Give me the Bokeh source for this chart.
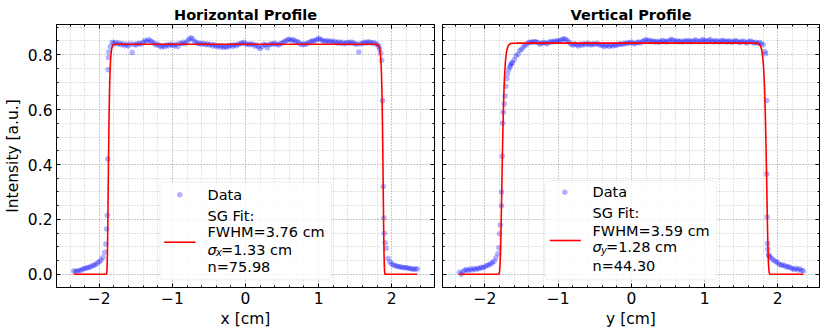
import numpy as np
from bokeh.plotting import figure
from bokeh.layouts import row
from bokeh.models import (Range1d, FixedTicker, LinearAxis, BoxAnnotation, Label,
                          CustomJSTickFormatter, NumeralTickFormatter, CustomLabelingPolicy)
from bokeh.embed import file_html
from bokeh.resources import INLINE

FONT = "DejaVu Sans"

# ---------------- data ----------------
# Horizontal profile: samples every 0.025 cm starting at -2.35 cm
h_x_start, h_x_step = -2.35, 0.025
h_y = [
    0.012, 0.010, 0.012, 0.014, 0.015, 0.019, 0.021, 0.023, 0.025, 0.027,
    0.030, 0.033, 0.036, 0.041, 0.046, 0.052, 0.062, 0.080, 0.165, 0.790,
    0.830, 0.845, 0.842, 0.845, 0.838, 0.843, 0.836, 0.840, 0.833, 0.838,
    0.832, 0.840, 0.808, 0.838, 0.835, 0.840, 0.842, 0.838, 0.845, 0.852,
    0.848, 0.855, 0.850, 0.846, 0.842, 0.835, 0.838, 0.833, 0.828, 0.832,
    0.830, 0.836, 0.833, 0.838, 0.835, 0.832, 0.838, 0.830, 0.842, 0.840,
    0.845, 0.840, 0.848, 0.855, 0.862, 0.858, 0.848, 0.845, 0.840, 0.842,
    0.838, 0.842, 0.836, 0.840, 0.835, 0.838, 0.832, 0.836, 0.830, 0.833,
    0.828, 0.832, 0.826, 0.830, 0.828, 0.832, 0.835, 0.830, 0.836, 0.833,
    0.838, 0.840, 0.842, 0.845, 0.840, 0.838, 0.836, 0.840, 0.838, 0.832,
    0.835, 0.828, 0.822, 0.830, 0.838, 0.835, 0.825, 0.836, 0.840, 0.838,
    0.842, 0.838, 0.835, 0.840, 0.843, 0.846, 0.850, 0.854, 0.856, 0.852,
    0.855, 0.850, 0.848, 0.845, 0.840, 0.836, 0.840, 0.838, 0.842, 0.845,
    0.848, 0.852, 0.850, 0.855, 0.860, 0.856, 0.852, 0.850, 0.848, 0.852,
    0.846, 0.850, 0.845, 0.848, 0.843, 0.846, 0.842, 0.845, 0.840, 0.843,
    0.845, 0.842, 0.846, 0.843, 0.840, 0.838, 0.810, 0.840, 0.842, 0.845,
    0.843, 0.847, 0.845, 0.842, 0.844, 0.840, 0.838, 0.830, 0.805, 0.632,
    0.150, 0.095, 0.058, 0.045, 0.038, 0.034, 0.031, 0.029, 0.028, 0.027,
    0.025, 0.024, 0.025, 0.022, 0.021, 0.020, 0.018, 0.020, 0.019,
]
# extra samples on the steep edges
h_edge_x = [-1.910, -1.890, -1.883, -1.878, -1.870, 1.835, 1.862, 1.884, 1.893, 1.910]
h_edge_y = [0.110, 0.215, 0.420, 0.745, 0.810, 0.820, 0.780, 0.320, 0.205, 0.115]

# Vertical profile: samples every 0.025 cm starting at -2.35 cm
v_x_start, v_x_step = -2.35, 0.025
v_y = [
    0.008, 0.000, 0.010, 0.015, 0.018, 0.013, 0.019, 0.016, 0.021, 0.018,
    0.022, 0.020, 0.026, 0.024, 0.028, 0.032, 0.034, 0.038, 0.042, 0.048,
    0.060, 0.075, 0.148, 0.250, 0.590, 0.650, 0.712, 0.745, 0.762, 0.772,
    0.782, 0.795, 0.802, 0.814, 0.820, 0.828, 0.834, 0.840, 0.844, 0.846,
    0.845, 0.848, 0.846, 0.844, 0.838, 0.842, 0.845, 0.843, 0.840, 0.845,
    0.848, 0.846, 0.850, 0.848, 0.852, 0.850, 0.855, 0.858, 0.856, 0.852,
    0.845, 0.838, 0.835, 0.840, 0.836, 0.832, 0.838, 0.834, 0.840, 0.836,
    0.842, 0.838, 0.835, 0.840, 0.837, 0.842, 0.838, 0.834, 0.836, 0.830,
    0.833, 0.836, 0.830, 0.834, 0.832, 0.836, 0.834, 0.838, 0.840, 0.837,
    0.842, 0.840, 0.844, 0.842, 0.846, 0.842, 0.840, 0.844, 0.846, 0.843,
    0.848, 0.852, 0.855, 0.850, 0.853, 0.848, 0.850, 0.846, 0.849, 0.845,
    0.848, 0.852, 0.850, 0.846, 0.849, 0.853, 0.856, 0.852, 0.848, 0.851,
    0.847, 0.850, 0.846, 0.849, 0.852, 0.848, 0.851, 0.847, 0.850, 0.854,
    0.850, 0.847, 0.851, 0.855, 0.852, 0.848, 0.851, 0.855, 0.850, 0.847,
    0.852, 0.849, 0.846, 0.850, 0.853, 0.849, 0.846, 0.851, 0.848, 0.845,
    0.849, 0.852, 0.848, 0.844, 0.847, 0.850, 0.846, 0.843, 0.847, 0.850,
    0.846, 0.843, 0.845, 0.842, 0.844, 0.840, 0.836, 0.812, 0.365, 0.072,
    0.062, 0.056, 0.050, 0.046, 0.042, 0.036, 0.033, 0.034, 0.030, 0.027,
    0.028, 0.024, 0.020, 0.018, 0.022, 0.016, 0.020, 0.014, 0.012,
]
v_edge_x = [-1.809, -1.790, -1.772, -1.763, -1.757, -1.735, -1.715, -1.690, -1.660, -1.640,
            1.835, 1.848, 1.855, 1.860, 1.865, 1.880]
v_edge_y = [0.097, 0.180, 0.300, 0.430, 0.550, 0.620, 0.685, 0.730, 0.755, 0.768,
            0.803, 0.633, 0.209, 0.112, 0.091, 0.066]

# super-Gaussian fit parameters (from the legend)
h_fit = dict(amp=0.838, x0=0.003, sigma=1.33, n=75.98)
v_fit = dict(amp=0.842, x0=0.040, sigma=1.28, n=44.30)
h_fit_label = ["SG Fit:", "FWHM=3.76 cm", ("x", "=1.33 cm"), "n=75.98"]
v_fit_label = ["SG Fit:", "FWHM=3.59 cm", ("y", "=1.28 cm"), "n=44.30"]

x_major = [-2, -1, 0, 1, 2]
y_major = [0.0, 0.2, 0.4, 0.6, 0.8]
x_minor = [round(v, 2) for v in np.arange(-2.6, 2.61, 0.2)]
y_minor = [round(v, 3) for v in np.arange(-0.05, 0.951, 0.05)]

FH = 263
Y_RANGE = (-0.048, 0.91)


def sg(x, amp, x0, sigma, n):
    return amp * np.exp(-(((x - x0) ** 2) / (2 * sigma ** 2)) ** n)


def style_axis(ax, ticker, show_labels, formatter=None, label=None):
    ax.ticker = ticker
    if formatter is not None:
        ax.formatter = formatter
    ax.major_tick_in = 4
    ax.major_tick_out = 0
    ax.minor_tick_in = 2
    ax.minor_tick_out = 0
    ax.major_tick_line_color = "black"
    ax.minor_tick_line_color = "black"
    ax.axis_line_color = "black"
    if show_labels:
        ax.major_label_text_font = FONT
        ax.major_label_text_font_size = "15.5px"
        ax.major_label_text_color = "black"
        ax.major_label_standoff = 4
    else:
        # tick marks only: no tick labels are drawn on this side
        ax.major_label_text_font_size = "0px"
        ax.major_label_standoff = 0
        ax.major_label_policy = CustomLabelingPolicy(
            code="for (const i of Array.from(indices)) { indices.unset(i) } return indices")
    if label:
        ax.axis_label = label
        ax.axis_label_text_font = FONT
        ax.axis_label_text_font_size = "15.5px"
        ax.axis_label_text_font_style = "normal"
        ax.axis_label_text_color = "black"
        ax.axis_label_standoff = 3


def make_panel(title, xlabel, xs, ys, fit, fit_lines, x_range, fw, ml, mr, show_y, leg):
    p = figure(title=title, frame_width=fw, frame_height=FH,
               x_range=Range1d(*x_range), y_range=Range1d(*Y_RANGE),
               output_backend="svg", toolbar_location=None,
               min_border_left=ml, min_border_right=mr,
               min_border_top=24, min_border_bottom=46,
               background_fill_color="white", border_fill_color="white")
    p.outline_line_color = "black"
    p.outline_line_width = 1
    p.outline_line_alpha = 1

    xt = FixedTicker(ticks=x_major, minor_ticks=x_minor)
    yt = FixedTicker(ticks=y_major, minor_ticks=y_minor)
    xfmt = CustomJSTickFormatter(code="return tick < 0 ? '\u2212' + (-tick) : String(tick);")
    yfmt = NumeralTickFormatter(format="0.0")

    style_axis(p.below[0], xt, True, xfmt, xlabel)
    style_axis(p.left[0], yt, show_y, yfmt, "Intensity [a.u.]" if show_y else None)
    top = LinearAxis()
    right = LinearAxis()
    style_axis(top, xt, False)
    style_axis(right, yt, False)
    p.add_layout(top, "above")
    p.add_layout(right, "right")

    for g, t in ((p.xgrid[0], xt), (p.ygrid[0], yt)):
        g.ticker = t
        g.grid_line_color = "#b0b0b0"
        g.grid_line_dash = "1 2"
        g.grid_line_width = 1
        g.minor_grid_line_color = "#c4c4c4"
        g.minor_grid_line_dash = "1 2"
        g.minor_grid_line_width = 1

    p.title.align = "center"
    p.title.text_font = FONT
    p.title.text_font_size = "14.5px"
    p.title.text_font_style = "bold"
    p.title.text_color = "black"
    p.title.standoff = 4

    # data + fit
    p.scatter(xs, ys, size=5.5, fill_color="blue", fill_alpha=0.3, line_color=None)
    xf = np.linspace(min(xs), max(xs), 1500)
    p.line(xf, sg(xf, **fit), line_color="red", line_width=1.6)

    # legend drawn in frame-pixel coordinates
    p.extra_x_ranges = {"px": Range1d(0, fw)}
    p.extra_y_ranges = {"py": Range1d(0, FH)}
    box = BoxAnnotation(left=leg["box"][0], right=leg["box"][1],
                        bottom=leg["box"][2], top=leg["box"][3],
                        x_range_name="px", y_range_name="py",
                        fill_color="white", fill_alpha=0.8,
                        line_color="#cccccc", line_width=1, border_radius=4)
    p.add_layout(box)
    p.scatter([leg["dot"][0]], [leg["dot"][1]], size=5.5, fill_color="blue",
              fill_alpha=0.3, line_color=None, x_range_name="px", y_range_name="py",
              level="overlay")
    p.line([leg["line"][0], leg["line"][1]], [leg["line"][2], leg["line"][2]],
           line_color="red", line_width=1.6, x_range_name="px", y_range_name="py",
           level="overlay")

    def lab(x, y, text, size="14.5px", style="normal"):
        p.add_layout(Label(x=x, y=y, text=text, x_range_name="px", y_range_name="py",
                           text_font=FONT, text_font_size=size, text_font_style=style,
                           text_color="black", text_baseline="middle", text_align="left",
                           level="overlay"))

    tx = leg["tx"]
    lab(tx, leg["ys"][0], "Data")
    lab(tx, leg["ys"][1], fit_lines[0])
    lab(tx, leg["ys"][2], fit_lines[1])
    sub, rest = fit_lines[2]
    lab(tx, leg["ys"][3], "\u03c3", style="italic")
    lab(tx + 8.5, leg["ys"][3] - 3, sub, size="10px", style="italic")
    lab(tx + 13.5, leg["ys"][3], rest)
    lab(tx, leg["ys"][4], fit_lines[3])
    return p


h_x = list(np.round(h_x_start + h_x_step * np.arange(len(h_y)), 4)) + h_edge_x
h_all = h_y + h_edge_y
v_x = list(np.round(v_x_start + v_x_step * np.arange(len(v_y)), 4)) + v_edge_x
v_all = v_y + v_edge_y

h_leg = dict(box=(103.3, 275, 7.7, 105.3), dot=(123.3, 92.7), line=(107.7, 139, 45.3),
             tx=151, ys=[92.7, 72, 55.3, 38, 21])
v_leg = dict(box=(102.3, 274, 7.7, 107), dot=(122.3, 95.3), line=(107.3, 138.3, 47),
             tx=150, ys=[95.3, 74.3, 57, 40.3, 21.3])

p1 = make_panel("Horizontal Profile", "x [cm]", h_x, h_all, h_fit, h_fit_label,
                (-2.585, 2.585), 378, 55, 4, True, h_leg)
p2 = make_panel("Vertical Profile", "y [cm]", v_x, v_all, v_fit, v_fit_label,
                (-2.58, 2.57), 377, 4, 7, False, v_leg)

layout = row(p1, p2)
open("out.html", "w").write(file_html(layout, INLINE))
